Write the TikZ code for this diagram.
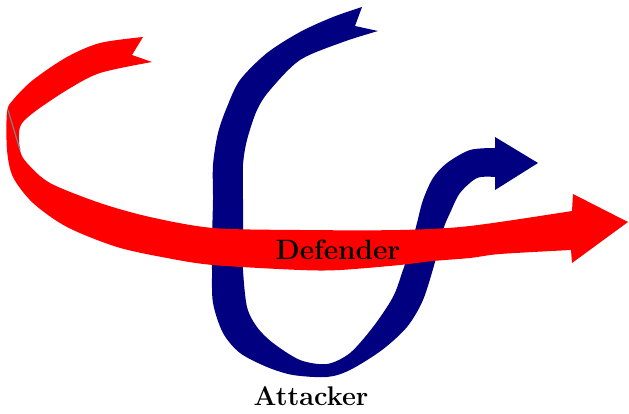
\documentclass[tikz,border=0pt]{standalone}
\definecolor{defred}{RGB}{255,0,0}
\definecolor{attblue}{RGB}{0,0,128}
\begin{document}
\begin{tikzpicture}[x=1pt,y=-1pt,
  redband/.style={fill=defred},
  blueband/.style={fill=attblue},
  seam/.style={draw=gray,line width=1.2pt},
  labeltext/.style={anchor=base,inner sep=0pt,text=black}]
\useasboundingbox (0,0) rectangle (629,414);
% Attacker (blue) arrow, drawn first
\fill[blueband] (362,7) -- (355,26) -- (378,31)
  -- plot[smooth,tension=0.5] coordinates {(378,31) (343,42) (300,60) (270,90) (257,110) (247,140) (243,165) (243,200) (243,240) (243,270) (247,307) (257,327) (273,343) (300,360) (327,364) (350,353) (373,327) (393,297) (403,270) (410,250) (417,223) (423,200) (433,178) (447,163) (470,150) (495,148)}
  -- (495,137) -- (538,163) -- (495,190)
  -- plot[smooth,tension=0.5] coordinates {(495,177) (477,178) (460,193) (450,213) (443,230) (435,262) (423,300) (407,327) (382,350) (350,370) (327,377) (293,375) (267,367) (240,353) (223,333) (213,303) (212,270) (212,240) (213,200) (213,165) (218,133) (227,107) (240,80) (267,53) (300,32) (333,17) (362,7)}
  -- cycle;
% Defender (red) arrow, on top
\fill[redband] (143,37) -- (132,55) -- (152,62)
  -- plot[smooth,tension=0.5] coordinates {(152,62) (100,73) (67,90) (33,113) (20,127) (20,150) (27,163) (50,183) (100,203) (150,217) (213,228) (300,230) (400,230) (470,226) (572,211)}
  -- (573,194) -- (628,222) -- (572,263)
  -- plot[smooth,tension=0.5] coordinates {(571,250) (500,254) (470,258) (433,261) (400,265) (340,270) (300,270) (213,265) (167,258) (117,247) (67,227) (33,203) (13,177) (7,150) (7,112) (13,100) (33,80) (67,57) (100,43) (143,37)}
  -- cycle;
\coordinate (seamA) at (8,110);
\coordinate (seamB) at (20,150);
\draw[seam] (seamA) -- (seamB);
% Labels
\node[labeltext] (defender) at (338,259) {\fontsize{28}{28}\selectfont\bfseries Defender};
\node[labeltext] (attacker) at (311,405) {\fontsize{27}{27}\selectfont\bfseries Attacker};
\end{tikzpicture}
\end{document}
